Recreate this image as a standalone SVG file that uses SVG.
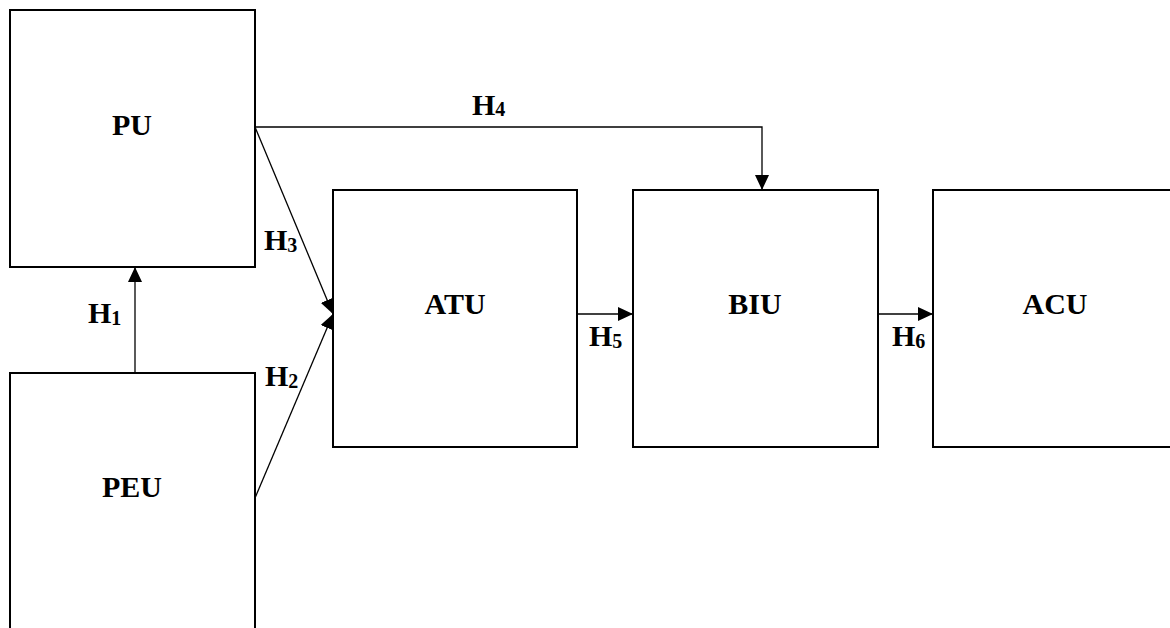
<svg xmlns="http://www.w3.org/2000/svg" width="1170" height="628" viewBox="0 0 1170 628">
  <style>
    .box { fill: #ffffff; stroke: #000000; stroke-width: 2; }
    .lbl { font-family: "Liberation Serif", "Times New Roman", serif; font-weight: bold; font-size: 30px; fill: #000000; }
    .hl { font-family: "Liberation Serif", "Times New Roman", serif; font-weight: bold; font-size: 30px; fill: #000000; }
    .sub { font-size: 20px; }
    .conn { fill: none; stroke: #000000; stroke-width: 1.3; }
  </style>
  <defs>
    <marker id="arrow" markerWidth="16" markerHeight="14" refX="15" refY="7" orient="auto" markerUnits="userSpaceOnUse">
      <path d="M0,0 L15,7 L0,14 Z" fill="#000000"/>
    </marker>
  </defs>
  <rect width="1170" height="628" fill="#ffffff"/>

  <g id="PU">
    <rect class="box" x="10" y="10" width="245" height="257"/>
    <text class="lbl" x="132" y="135" text-anchor="middle">PU</text>
  </g>
  <g id="PEU">
    <rect class="box" x="10" y="373" width="245" height="280"/>
    <text class="lbl" x="132" y="497" text-anchor="middle">PEU</text>
  </g>
  <g id="ATU">
    <rect class="box" x="333" y="190" width="244" height="257"/>
    <text class="lbl" x="455" y="314" text-anchor="middle">ATU</text>
  </g>
  <g id="BIU">
    <rect class="box" x="633" y="190" width="245" height="257"/>
    <text class="lbl" x="755" y="314" text-anchor="middle">BIU</text>
  </g>
  <g id="ACU">
    <rect class="box" x="933" y="190" width="245" height="257"/>
    <text class="lbl" x="1055" y="314" text-anchor="middle">ACU</text>
  </g>

  <g id="connectors">
    <line class="conn" x1="135" y1="373" x2="135" y2="267" marker-end="url(#arrow)"/>
    <line class="conn" x1="255" y1="498" x2="333" y2="314" marker-end="url(#arrow)"/>
    <line class="conn" x1="255" y1="127" x2="333" y2="314" marker-end="url(#arrow)"/>
    <polyline class="conn" points="255,127 762,127 762,190" marker-end="url(#arrow)"/>
    <line class="conn" x1="577" y1="314" x2="633" y2="314" marker-end="url(#arrow)"/>
    <line class="conn" x1="878" y1="314" x2="933" y2="314" marker-end="url(#arrow)"/>
  </g>

  <g id="labels">
    <text class="hl" x="88" y="323">H<tspan class="sub" dy="2">1</tspan></text>
    <text class="hl" x="265" y="386">H<tspan class="sub" dy="2">2</tspan></text>
    <text class="hl" x="264" y="250">H<tspan class="sub" dy="2">3</tspan></text>
    <text class="hl" x="472" y="115">H<tspan class="sub" dy="1">4</tspan></text>
    <text class="hl" x="589" y="346">H<tspan class="sub" dy="2">5</tspan></text>
    <text class="hl" x="892" y="346">H<tspan class="sub" dy="2">6</tspan></text>
  </g>
</svg>
